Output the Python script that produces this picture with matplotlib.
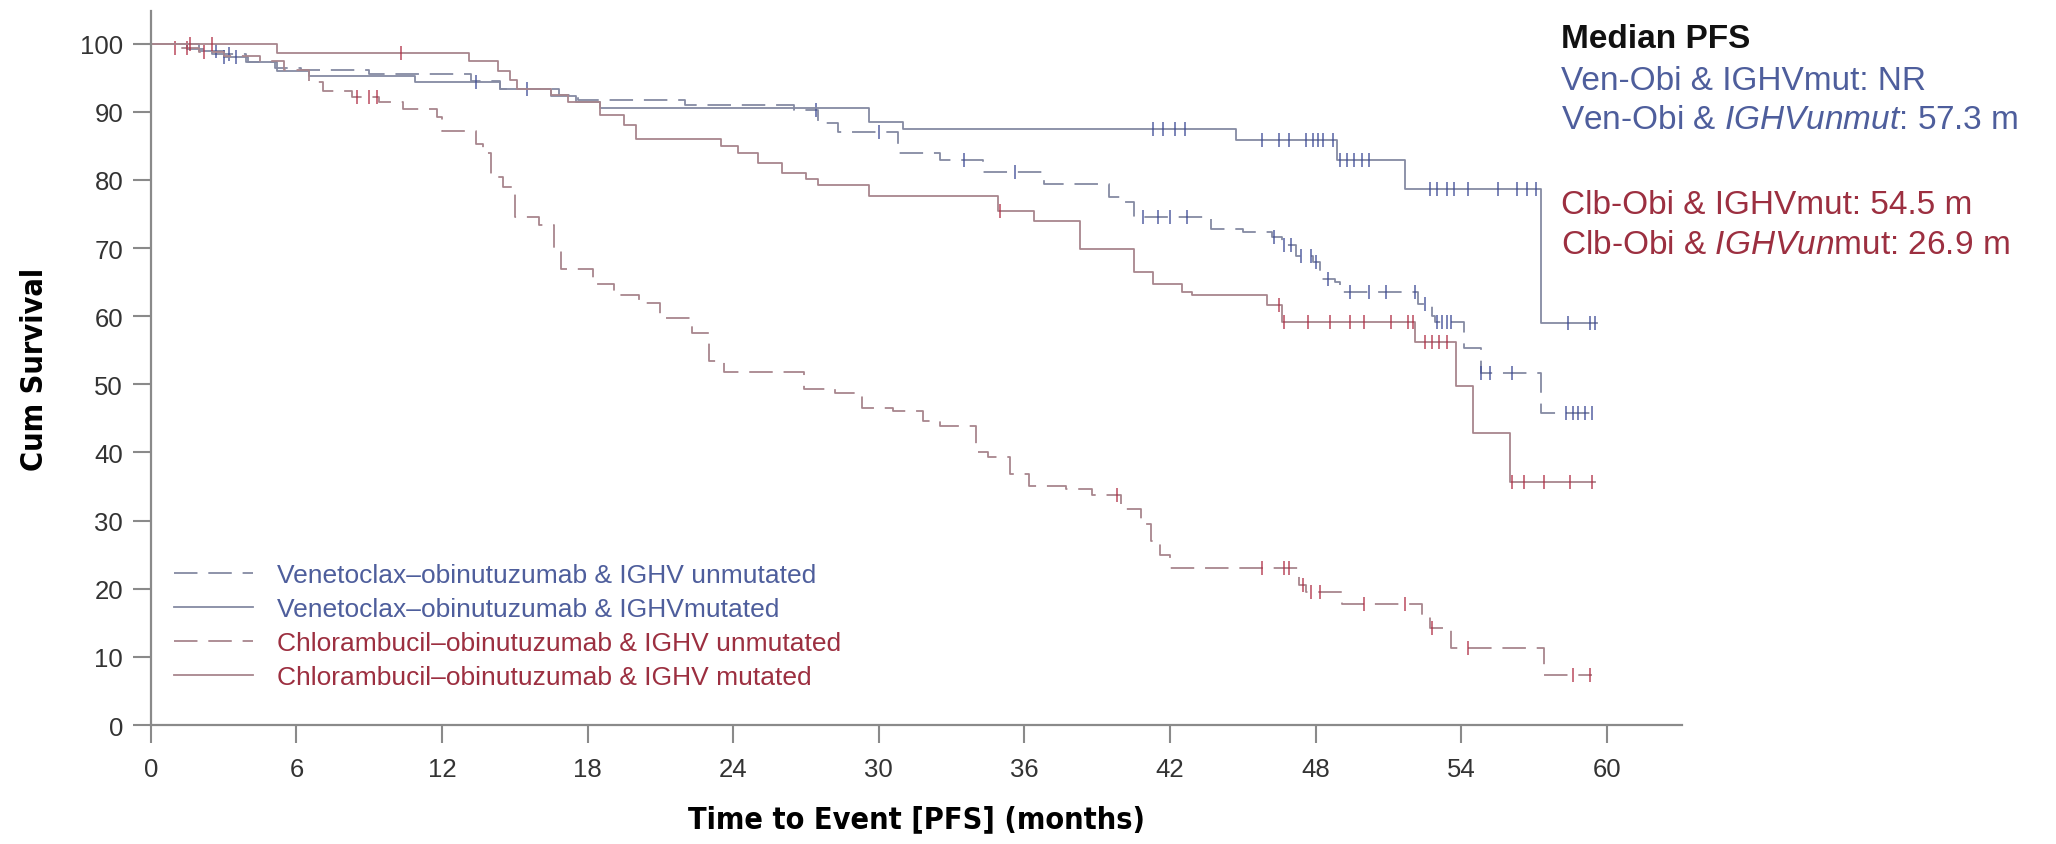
import numpy as np
import matplotlib
matplotlib.use("Agg")
import matplotlib.pyplot as plt

plt.rcParams['font.family'] = ['Liberation Sans', 'DejaVu Sans']
plt.rcParams['mathtext.fontset'] = 'custom'
plt.rcParams['mathtext.rm'] = 'Liberation Sans'
plt.rcParams['mathtext.it'] = 'Liberation Sans:italic'

# Venetoclax-obinutuzumab, IGHV unmutated (dashed)
vu_t = [0, 1.5, 2.5, 3.9, 5.1, 6.2, 9.0, 13.2, 14.4, 16.8, 17.6, 22.0, 26.5, 27.5, 28.3,
        30.8, 32.5, 34.3, 36.8, 39.5, 40.1, 40.5, 43.7, 45.0, 46.2, 46.6, 47.2, 47.9, 48.2,
        48.8, 49.0, 52.2, 52.8, 52.9, 54.1, 54.8, 57.3]
vu_s = [100, 99.2, 98.5, 97.3, 96.5, 96.1, 95.6, 94.5, 93.3, 92.5, 91.8, 91.0, 90.3, 88.3, 87.0,
        84.0, 82.9, 81.2, 79.4, 77.5, 76.8, 74.5, 72.8, 72.3, 71.6, 70.4, 68.9, 67.9, 65.5,
        65.0, 63.5, 61.8, 60.1, 59.1, 55.4, 51.7, 45.8]
vu_end = 59.6
vu_cens = [3.2, 27.4, 30.0, 33.5, 35.6, 40.9, 41.5, 42.0, 42.7, 46.3, 46.7, 47.0, 47.4, 47.8,
           48.0, 48.5, 49.4, 50.2, 50.9, 52.1, 52.5, 53.0, 53.2, 53.4, 53.6, 54.8, 55.2, 56.1,
           58.3, 58.6, 58.8, 59.1, 59.4]

# Venetoclax-obinutuzumab, IGHV mutated (solid)
vm_t = [0, 2.0, 3.0, 4.0, 5.2, 6.5, 10.9, 14.4, 16.5, 17.5, 18.5, 29.6, 31.0, 44.7, 48.9, 51.7, 57.3]
vm_s = [100, 99.0, 98.0, 97.3, 96.0, 95.2, 94.4, 93.3, 92.3, 91.5, 90.5, 88.5, 87.5, 85.9, 83.0, 78.7, 59.0]
vm_end = 59.6
vm_cens = [2.7, 3.0, 3.5, 13.4, 15.5, 41.3, 41.7, 42.2, 42.6, 45.8, 46.5, 46.9, 47.6, 47.9, 48.1,
           48.3, 48.7, 49.0, 49.3, 49.6, 49.9, 50.2, 52.7, 53.0, 53.4, 53.7, 54.3, 55.5, 56.3,
           56.7, 57.1, 58.4, 59.3, 59.5]

# Chlorambucil-obinutuzumab, IGHV unmutated (dashed)
cu_t = [0, 1.0, 2.0, 3.0, 4.5, 5.5, 6.5, 7.1, 8.3, 9.4, 10.4, 11.8, 12.0, 13.4, 13.7, 14.0, 14.5,
        15.0, 16.0, 16.6, 16.9, 18.2, 19.1, 20.1, 21.0, 22.3, 23.0, 23.6, 26.9, 28.2, 29.3, 30.6,
        31.8, 32.5, 34.0, 34.5, 35.4, 36.2, 37.7, 38.8, 40.0, 40.8, 41.2, 41.6, 42.0, 47.3, 47.6,
        49.1, 52.4, 52.7, 53.6, 57.4]
cu_s = [100, 99.4, 98.8, 98.2, 97.4, 96.2, 94.4, 93.1, 92.2, 91.5, 90.4, 89.3, 87.2, 85.3, 84.0,
        80.5, 79.0, 74.6, 73.4, 70.0, 66.9, 64.8, 63.1, 61.9, 59.7, 57.5, 53.5, 51.8, 49.3, 48.7,
        46.6, 46.1, 44.6, 43.9, 40.0, 39.3, 36.8, 35.1, 34.7, 33.7, 31.7, 29.5, 27.0, 25.0, 23.1,
        20.6, 19.5, 17.8, 16.2, 14.2, 11.3, 7.3]
cu_end = 59.4
cu_cens = [1.0, 1.5, 2.2, 8.5, 9.0, 9.3, 39.8, 45.8, 46.7, 46.9, 47.5, 47.8, 48.2, 50.0, 51.7,
           52.8, 54.3, 58.6, 59.3]

# Chlorambucil-obinutuzumab, IGHV mutated (solid)
cm_t = [0, 5.2, 13.1, 14.3, 14.8, 15.1, 16.5, 17.2, 18.5, 19.5, 20.0, 23.5, 24.2, 25.0, 26.0,
        27.0, 27.5, 29.6, 34.9, 36.4, 38.3, 40.5, 41.3, 42.5, 42.9, 46.0, 46.6, 52.1, 53.8,
        54.5, 56.0]
cm_s = [100, 98.6, 97.4, 96.0, 94.7, 93.3, 92.4, 91.5, 89.5, 88.0, 86.0, 85.0, 84.0, 82.5, 81.0,
        80.2, 79.2, 77.7, 75.5, 74.0, 69.9, 66.5, 64.8, 63.5, 63.1, 61.7, 59.1, 56.2, 49.8,
        42.9, 35.6]
cm_end = 59.5
cm_cens = [1.6, 2.5, 10.3, 35.0, 46.5, 46.7, 47.7, 48.6, 49.4, 50.0, 51.1, 51.8, 52.0, 52.5,
           52.8, 53.1, 53.4, 56.1, 56.6, 57.4, 58.5, 59.4]

labels = ["Venetoclax\u2013obinutuzumab & IGHV unmutated",
          "Venetoclax\u2013obinutuzumab & IGHVmutated",
          "Chlorambucil\u2013obinutuzumab & IGHV unmutated",
          "Chlorambucil\u2013obinutuzumab & IGHV mutated"]

BLUE_LINE = '#858aa3'
RED_LINE = '#a8868d'
BLUE_MARK = '#3c4a95'
RED_MARK = '#b02f45'
BLUE_TXT = '#4e5e9c'
RED_TXT = '#9c2f40'
DASH = (0, (13, 6))

groups = [
    (vu_t, vu_s, vu_end, vu_cens, BLUE_LINE, BLUE_MARK, DASH),
    (vm_t, vm_s, vm_end, vm_cens, BLUE_LINE, BLUE_MARK, '-'),
    (cu_t, cu_s, cu_end, cu_cens, RED_LINE, RED_MARK, DASH),
    (cm_t, cm_s, cm_end, cm_cens, RED_LINE, RED_MARK, '-'),
]

fig = plt.figure(figsize=(20.56, 8.45), dpi=100)
ax = fig.add_axes([0.0734, 0.1408, 0.7447, 0.845])

handles = []
for (t, s, end, cens, lc, mc, ls), lab in zip(groups, labels):
    t = np.append(t, end)
    s = np.append(s, s[-1])
    h, = ax.step(t, s, where='post', color=lc, lw=1.3, linestyle=ls, label=lab)
    handles.append(h)
    idx = np.searchsorted(t, cens, side='right') - 1
    ax.plot(cens, s[idx], linestyle='none', marker='|', markersize=10,
            markeredgewidth=1.2, color=mc, alpha=0.8)

ax.set_xlim(0, 63.1)
ax.set_ylim(0, 104.8)
ax.set_xticks(np.arange(0, 61, 6))
ax.set_yticks(np.arange(0, 101, 10))
for sp in ['top', 'right']:
    ax.spines[sp].set_visible(False)
for sp in ['left', 'bottom']:
    ax.spines[sp].set_color('#8a8a8a')
    ax.spines[sp].set_linewidth(1.6)
ax.tick_params(axis='both', length=13, width=1.5, color='#8a8a8a',
               labelsize=18.5, labelcolor='#333333')
ax.tick_params(axis='y', pad=7)
ax.tick_params(axis='x', pad=10)

lab_font = dict(fontsize=22, fontweight='bold', family='DejaVu Sans', fontstretch='condensed')
ax.set_ylabel("Cum Survival", labelpad=22, **lab_font)
ax.set_xlabel("Time to Event [PFS] (months)", labelpad=17, **lab_font)

leg = ax.legend(handles=handles, loc='lower left', bbox_to_anchor=(0.015, 0.05),
                frameon=False, fontsize=19, handlelength=3.0, handletextpad=0.9,
                labelspacing=0.38, borderaxespad=0, borderpad=0)
for txt, c in zip(leg.get_texts(), [BLUE_TXT, BLUE_TXT, RED_TXT, RED_TXT]):
    txt.set_color(c)

ann = 24
fig.text(0.759, 0.953, "Median PFS", fontsize=ann, fontweight='bold', color='#111111', va='center')
fig.text(0.759, 0.903, "Ven-Obi & IGHVmut: NR", fontsize=ann, color=BLUE_TXT, va='center')
fig.text(0.759, 0.857, r"Ven-Obi & $\mathit{IGHVunmut}$: 57.3 m", fontsize=ann, color=BLUE_TXT,
         va='center')
fig.text(0.759, 0.757, "Clb-Obi & IGHVmut: 54.5 m", fontsize=ann, color=RED_TXT, va='center')
fig.text(0.759, 0.709, r"Clb-Obi & $\mathit{IGHVun}$mut: 26.9 m", fontsize=ann, color=RED_TXT,
         va='center')

fig.savefig("out.png", dpi=100)
